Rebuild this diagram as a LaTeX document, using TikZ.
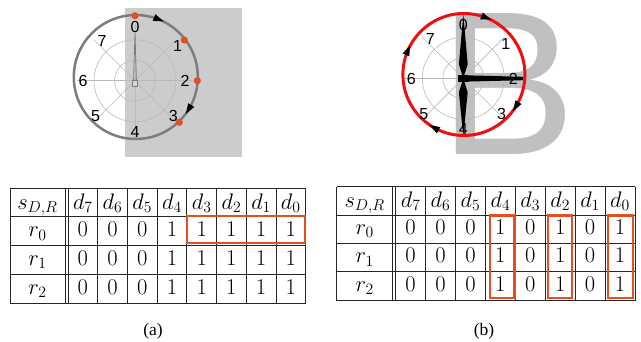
\RequirePackage{fix-cm}
\documentclass[tikz,border=0pt]{standalone}
\usepackage{fontspec}
\newfontfamily\labfont{Liberation Sans}
\newfontfamily\capfont{Liberation Serif}
\newfontfamily\bigfont{Liberation Sans}
\definecolor{orng}{RGB}{226,80,32}
\definecolor{gridc}{RGB}{185,185,185}
\definecolor{panelgray}{RGB}{204,204,204}
\definecolor{bgray}{RGB}{192,192,192}
\definecolor{circgray}{RGB}{125,125,125}
\definecolor{brightred}{RGB}{238,16,16}
\tikzset{
  gridline/.style={draw=gridc, line width=0.6pt},
  lab/.style={font=\labfont\fontsize{16}{16}\selectfont, inner sep=0pt},
  tabline/.style={line width=0.8pt, draw=black!85},
  cell/.style={anchor=base, inner sep=0pt, font=\fontsize{22.5}{24}\selectfont},
  hbox/.style={draw=orng, line width=2.2pt},
  capt/.style={font=\capfont\fontsize{17.5}{18}\selectfont, inner sep=0pt},
  odot/.style={circle, fill=orng, inner sep=0pt, minimum size=7.2pt},
}
\newcommand\cwtip[2]{\fill[black, rotate=#1] (#2,-5.5) -- (#2+3.6,4.8) -- (#2-3.6,4.8) -- cycle;}
\newcommand\polargrid{%
  \draw[gridline] (0,0) circle[radius=20.5];
  \draw[gridline] (0,0) circle[radius=41];
  \foreach \a in {0,45,...,315} \draw[gridline] (0,0) -- (\a:58);
}
\newcommand\polarlabels[1]{%
  \node[lab] (#1l0) at (0,53.5) {0};
  \node[lab] (#1l1) at (42.5,34.5) {1};
  \node[lab] (#1l2) at (50,-0.5) {2};
  \node[lab] (#1l3) at (38.3,-35.5) {3};
  \node[lab] (#1l4) at (0,-51) {4};
  \node[lab] (#1l5) at (-39.5,-35.5) {5};
  \node[lab] (#1l6) at (-52,-0.5) {6};
  \node[lab] (#1l7) at (-33,39.5) {7};
}
\begin{document}
\begin{tikzpicture}[x=1pt,y=1pt]
\useasboundingbox (0,0) rectangle (641,341);
% ---------------- left polar plot
\fill[panelgray] (125,184.3) rectangle (241.7,332.7);
\begin{scope}[shift={(135,260.3)}]
  \polargrid
  \draw[circgray, line width=0.8pt, fill=panelgray!80] (-2.5,-5.3) rectangle (2.5,0.7);
  \draw[circgray, line width=0.8pt] (-1.4,0.7) -- (0,47.7) -- (1.4,0.7);
\end{scope}
\begin{scope}[shift={(135.8,264)}]
  \draw[circgray, line width=2.5pt] (0,0) circle[radius=62];
  \cwtip{68.5}{62}
  \cwtip{-31.3}{62}
\end{scope}
\node[odot] (da) at (135,325.3) {};
\node[odot] (db) at (184.3,301) {};
\node[odot] (dc) at (197.3,260.3) {};
\node[odot] (dd) at (179.3,218.7) {};
\begin{scope}[shift={(135,260.3)}]
  \polarlabels{L}
\end{scope}
% ---------------- right polar plot
\node[anchor=base west, inner sep=0pt, text=bgray, font=\bigfont\fontsize{205}{205}\selectfont] (bigB) at (439.5,186) {B};
\begin{scope}[shift={(463.3,262.7)}]
  \polargrid
  \fill[black] (0,64.3) -- (4.4,14) -- (0,0) -- (-4.4,14) -- cycle;
  \fill[black] (0,-58.4) -- (4.4,-14) -- (0,0) -- (-4.4,-14) -- cycle;
  \fill[black] (2.7,3.0) -- (59.7,1.5) -- (59.7,-1.9) -- (2.7,-3.3) -- cycle;
  \fill[black] (-5,-3.4) rectangle (5,3.3);
\end{scope}
\begin{scope}[shift={(463.9,266.5)}]
  \draw[brightred, line width=3pt] (0,0) circle[radius=61];
  \cwtip{68.8}{61}
  \cwtip{156.8}{61}
  \cwtip{-31.4}{61}
  \cwtip{-118.9}{61}
\end{scope}
\begin{scope}[shift={(463.3,262.7)}]
  \polarlabels{R}
\end{scope}
% ---------------- left table
\foreach \y in {153,124.3,95.3,66.7,37.7} \draw[tabline] (10,\y) -- (305.7,\y);
\foreach \x in {10,65,68,305.7} \draw[tabline] (\x,153) -- (\x,37.7);
\foreach \k in {1,...,7} \draw[tabline] ({68+\k*29.71},153) -- ({68+\k*29.71},37.7);
\node[cell] (Ls) at (37.5,132) {$s_{D,R}$};
\foreach \j in {0,...,7} {
  \pgfmathtruncatemacro\d{7-\j}
  \node[cell] (Ld\d) at ({68+(\j+0.5)*29.71},132) {$d_{\d}$};
}
\foreach \r/\yb in {0/104.3,1/75.7,2/46.7} {
  \node[cell] (Lr\r) at (37.5,\yb) {$r_{\r}$};
  \foreach \v [count=\j from 0] in {0,0,0,1,1,1,1,1}
    \node[cell] (Lv\r\j) at ({68+(\j+0.5)*29.71},\yb) {$\v$};
}
\draw[hbox] (186.9,124.8) rectangle (304.8,97.7);
% ---------------- right table
\foreach \y in {154.3,126,97.7,69.3,40.3} \draw[tabline] (336.7,\y) -- (635,\y);
\foreach \x in {336.7,392.7,395.7,635} \draw[tabline] (\x,154.3) -- (\x,40.3);
\foreach \k in {1,...,7} \draw[tabline] ({395.7+\k*29.91},154.3) -- ({395.7+\k*29.91},40.3);
\node[cell] (Rs) at (364.7,133.5) {$s_{D,R}$};
\foreach \j in {0,...,7} {
  \pgfmathtruncatemacro\d{7-\j}
  \node[cell] (Rd\d) at ({395.7+(\j+0.5)*29.91},133.5) {$d_{\d}$};
}
\foreach \r/\yb in {0/106.7,1/78.3,2/49.5} {
  \node[cell] (Rr\r) at (364.7,\yb) {$r_{\r}$};
  \foreach \v [count=\j from 0] in {0,0,0,1,0,1,0,1}
    \node[cell] (Rv\r\j) at ({395.7+(\j+0.5)*29.91},\yb) {$\v$};
}
\draw[hbox] (489.9,125.6) rectangle (514.4,42.7);
\draw[hbox] (548.3,125.6) rectangle (571.8,42.7);
\draw[hbox] (608.3,125.6) rectangle (633.3,42.7);
% ---------------- captions
\node[capt] (capa) at (153,9.5) {(a)};
\node[capt] (capb) at (484,9.5) {(b)};
\end{tikzpicture}
\end{document}
